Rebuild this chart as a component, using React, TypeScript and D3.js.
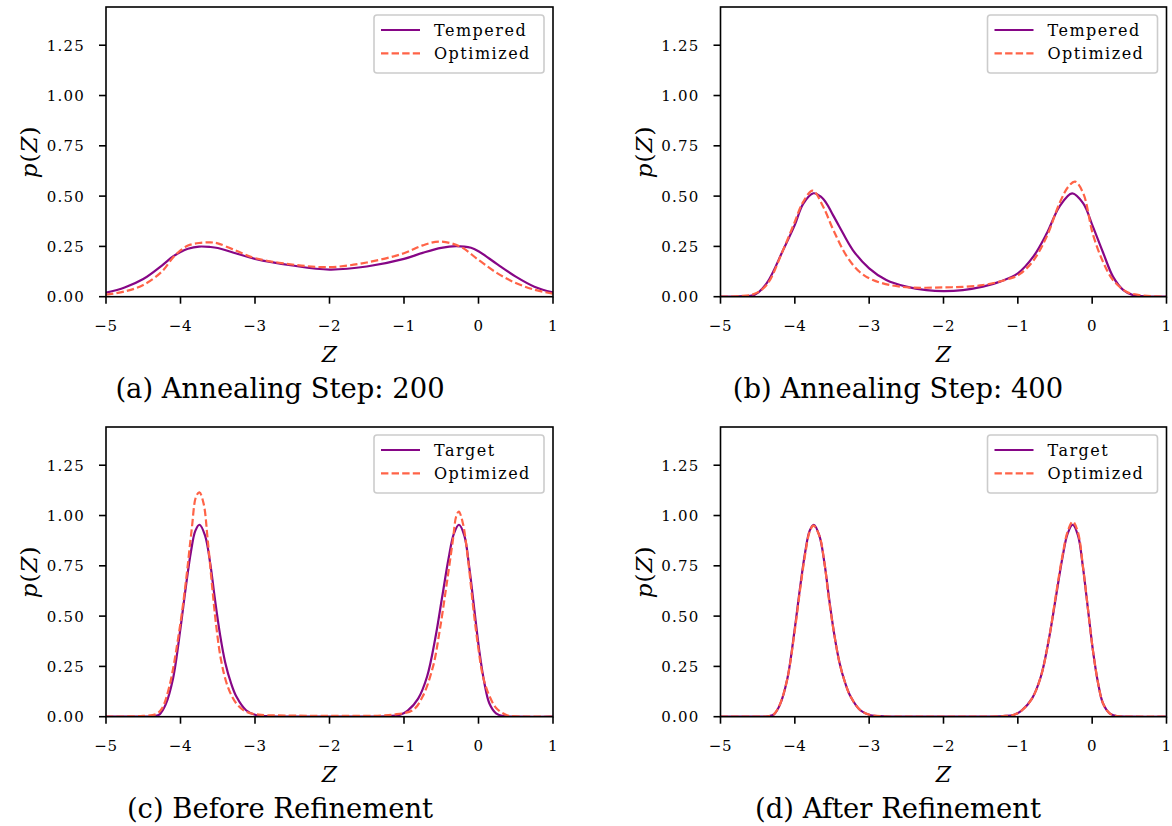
import React, { useEffect } from "react";
import * as d3 from "d3";

// ---------- DATA ----------
const xTicks = [-5, -4, -3, -2, -1, 0, 1];
const yTicks = [0, 0.25, 0.5, 0.75, 1.0, 1.25];
const captions = [
  "(a) Annealing Step: 200",
  "(b) Annealing Step: 400",
  "(c) Before Refinement",
  "(d) After Refinement",
];
const legendLabelsTop = ["Tempered", "Optimized"];
const legendLabelsBottom = ["Target", "Optimized"];

// (a) step 200
const aTemperedX = [-5, -4.75, -4.5, -4.25, -4.1, -4, -3.9, -3.75, -3.6, -3.5, -3.25, -3, -2.5, -2, -1.5, -1, -0.75, -0.5, -0.3, -0.1, 0, 0.25, 0.5, 0.75, 1];
const aTemperedY = [0.020, 0.046, 0.088, 0.155, 0.200, 0.222, 0.238, 0.249, 0.247, 0.242, 0.215, 0.188, 0.155, 0.135, 0.150, 0.188, 0.218, 0.243, 0.251, 0.243, 0.226, 0.162, 0.100, 0.050, 0.021];
const aOptX = [-5, -4.75, -4.5, -4.25, -4.1, -4, -3.9, -3.75, -3.6, -3.5, -3.25, -3, -2.5, -2, -1.5, -1, -0.75, -0.52, -0.25, 0, 0.25, 0.5, 0.75, 1];
const aOptY = [0.010, 0.026, 0.058, 0.125, 0.195, 0.230, 0.254, 0.267, 0.270, 0.265, 0.228, 0.192, 0.160, 0.147, 0.170, 0.216, 0.255, 0.274, 0.250, 0.183, 0.117, 0.068, 0.035, 0.015];

// (b) step 400
const bTemperedX = [-5, -4.75, -4.54, -4.38, -4.16, -4.0, -3.89, -3.75, -3.65, -3.57, -3.5, -3.4, -3.22, -3.0, -2.77, -2.5, -2.23, -2.0, -1.74, -1.47, -1.24, -1.0, -0.79, -0.61, -0.44, -0.27, -0.12, 0.01, 0.15, 0.28, 0.42, 0.55, 0.78, 1.0];
const bTemperedY = [0, 0.002, 0.01, 0.066, 0.23, 0.357, 0.46, 0.514, 0.497, 0.462, 0.415, 0.348, 0.232, 0.141, 0.083, 0.05, 0.033, 0.028, 0.033, 0.05, 0.075, 0.116, 0.2, 0.315, 0.448, 0.514, 0.464, 0.348, 0.216, 0.1, 0.033, 0.008, 0.001, 0];
const bOptX = [-5, -4.75, -4.55, -4.38, -4.16, -4.0, -3.89, -3.76, -3.62, -3.48, -3.3, -3.13, -2.95, -2.59, -2.0, -1.47, -1.1, -0.97, -0.79, -0.61, -0.44, -0.32, -0.23, -0.12, 0.01, 0.15, 0.28, 0.46, 0.64, 1.0];
const bOptY = [0, 0.003, 0.013, 0.058, 0.23, 0.373, 0.47, 0.527, 0.448, 0.33, 0.2, 0.124, 0.083, 0.05, 0.046, 0.058, 0.091, 0.113, 0.18, 0.3, 0.464, 0.547, 0.572, 0.514, 0.31, 0.17, 0.083, 0.025, 0.008, 0];

// target density (c, d)
const targetX = [-5, -4.6, -4.4, -4.34, -4.28, -4.2, -4.1, -4.0, -3.93, -3.86, -3.8, -3.745, -3.67, -3.6, -3.54, -3.47, -3.4, -3.32, -3.25, -3.12, -2.98, -2.8, -2.5, -2.0, -1.5, -1.2, -1.05, -0.95, -0.81, -0.69, -0.58, -0.49, -0.4, -0.33, -0.262, -0.19, -0.125, -0.055, 0.01, 0.08, 0.145, 0.235, 0.33, 0.5, 1.0];
const targetY = [0, 0, 0.0005, 0.003, 0.012, 0.06, 0.19, 0.44, 0.64, 0.82, 0.925, 0.954, 0.9, 0.76, 0.59, 0.41, 0.27, 0.165, 0.1, 0.032, 0.007, 0.002, 0.0005, 0.0003, 0.0005, 0.003, 0.01, 0.03, 0.09, 0.2, 0.39, 0.59, 0.79, 0.91, 0.954, 0.9, 0.746, 0.53, 0.33, 0.166, 0.067, 0.017, 0.003, 0.0005, 0];

// (c) optimized before refinement
const cOptX = [-5, -4.6, -4.5, -4.33, -4.25, -4.15, -4.015, -3.925, -3.85, -3.79, -3.746, -3.69, -3.635, -3.575, -3.52, -3.455, -3.366, -3.253, -3.12, -2.95, -2.6, -2.0, -1.5, -1.3, -1.15, -0.88, -0.75, -0.61, -0.52, -0.432, -0.343, -0.3, -0.265, -0.21, -0.14, -0.072, -0.005, 0.06, 0.15, 0.24, 0.375, 0.5, 1.0];
const cOptY = [0, 0.002, 0.004, 0.012, 0.04, 0.15, 0.43, 0.68, 0.93, 1.095, 1.115, 1.06, 0.88, 0.647, 0.45, 0.28, 0.15, 0.067, 0.025, 0.01, 0.006, 0.004, 0.004, 0.006, 0.01, 0.033, 0.1, 0.25, 0.43, 0.647, 0.88, 0.995, 1.02, 0.962, 0.78, 0.547, 0.348, 0.2, 0.1, 0.042, 0.008, 0.002, 0];

// (d) optimized after refinement
const dOptX = [-5, -4.6, -4.4, -4.34, -4.28, -4.2, -4.1, -4.0, -3.93, -3.86, -3.8, -3.75, -3.67, -3.6, -3.54, -3.47, -3.4, -3.32, -3.25, -3.12, -2.98, -2.8, -2.5, -2.0, -1.5, -1.2, -1.05, -0.95, -0.81, -0.69, -0.58, -0.49, -0.4, -0.33, -0.26, -0.19, -0.125, -0.055, 0.01, 0.08, 0.145, 0.235, 0.33, 0.5, 1.0];
const dOptY = [0, 0, 0.0005, 0.003, 0.013, 0.062, 0.19, 0.43, 0.63, 0.81, 0.92, 0.95, 0.9, 0.76, 0.58, 0.41, 0.27, 0.165, 0.1, 0.033, 0.008, 0.002, 0.0005, 0.0003, 0.0005, 0.003, 0.01, 0.03, 0.09, 0.2, 0.39, 0.6, 0.8, 0.92, 0.97, 0.915, 0.75, 0.53, 0.33, 0.166, 0.067, 0.017, 0.003, 0.0005, 0];

// ---------- STYLE / LAYOUT ----------
const W = 1172;
const H = 826;
const PURPLE = "#860686";
const TOMATO = "#ff6347";
const FONT = "'DejaVu Serif', serif";

const cols = [
  { x0: 106, x1: 553, capX: 280 },
  { x0: 720.5, x1: 1166.5, capX: 898 },
];
const rows = [
  { y0: 7, y1: 296.7 },
  { y0: 427, y1: 716.7 },
];

type Series = { xs: number[]; ys: number[] };

const panels = [
  { col: 0, row: 0, solid: { xs: aTemperedX, ys: aTemperedY }, dashed: { xs: aOptX, ys: aOptY }, labels: legendLabelsTop, caption: captions[0] },
  { col: 1, row: 0, solid: { xs: bTemperedX, ys: bTemperedY }, dashed: { xs: bOptX, ys: bOptY }, labels: legendLabelsTop, caption: captions[1] },
  { col: 0, row: 1, solid: { xs: targetX, ys: targetY }, dashed: { xs: cOptX, ys: cOptY }, labels: legendLabelsBottom, caption: captions[2] },
  { col: 1, row: 1, solid: { xs: targetX, ys: targetY }, dashed: { xs: dOptX, ys: dOptY }, labels: legendLabelsBottom, caption: captions[3] },
];

const fmtY = (v: number) => v.toFixed(2);
const fmtX = (v: number) => (v < 0 ? "\u2212" + Math.abs(v) : String(v));

function Panel({ idx, p }: { idx: number; p: (typeof panels)[number] }) {
  const c = cols[p.col];
  const r = rows[p.row];
  const x = d3.scaleLinear().domain([-5, 1]).range([c.x0, c.x1]);
  const y = d3.scaleLinear().domain([0, 1.44]).range([r.y1, r.y0]);
  const line = d3
    .line<[number, number]>()
    .x((d) => x(d[0]))
    .y((d) => y(d[1]))
    .curve(d3.curveCatmullRom.alpha(0.5));
  const pts = (s: Series) => s.xs.map((v, i) => [v, s.ys[i]] as [number, number]);
  const clipId = `clip${idx}`;
  const cx = (c.x0 + c.x1) / 2;
  const cy = (r.y0 + r.y1) / 2;
  const lgW = 170;
  const lgH = 58;
  const lgX = c.x1 - 9 - lgW;
  const lgY = r.y0 + 8;
  return (
    <g>
      <defs>
        <clipPath id={clipId}>
          <rect x={c.x0} y={r.y0} width={c.x1 - c.x0} height={r.y1 - r.y0} />
        </clipPath>
      </defs>
      <g clipPath={`url(#${clipId})`}>
        <path d={line(pts(p.solid)) || ""} fill="none" stroke={PURPLE} strokeWidth={2.2} />
        <path d={line(pts(p.dashed)) || ""} fill="none" stroke={TOMATO} strokeWidth={2.2} strokeDasharray="7.4,3.2" />
      </g>
      <rect x={c.x0} y={r.y0} width={c.x1 - c.x0} height={r.y1 - r.y0} fill="none" stroke="#000" strokeWidth={1.6} />
      {yTicks.map((t) => (
        <g key={"y" + t}>
          <line x1={c.x0 - 7} x2={c.x0} y1={y(t)} y2={y(t)} stroke="#000" strokeWidth={1.6} />
          <text x={c.x0 - 21} y={y(t) + 5.4} textAnchor="end" fontFamily={FONT} fontSize={15} letterSpacing={1.2} fill="#000">
            {fmtY(t)}
          </text>
        </g>
      ))}
      {xTicks.map((t) => (
        <g key={"x" + t}>
          <line x1={x(t)} x2={x(t)} y1={r.y1} y2={r.y1 + 7} stroke="#000" strokeWidth={1.6} />
          <text x={x(t)} y={r.y1 + 34} textAnchor="middle" fontFamily={FONT} fontSize={15} letterSpacing={0.6} fill="#000">
            {fmtX(t)}
          </text>
        </g>
      ))}
      <text x={cx} y={r.y1 + 65} textAnchor="middle" fontFamily={FONT} fontSize={22} fontStyle="italic" fill="#000">
        Z
      </text>
      <text
        transform={`translate(${c.x0 - 77},${cy}) rotate(-90)`}
        textAnchor="middle"
        dominantBaseline="central"
        fontFamily={FONT}
        fontSize={23}
        letterSpacing={1}
        fill="#000"
      >
        <tspan fontStyle="italic">p</tspan>(<tspan fontStyle="italic">Z</tspan>)
      </text>
      <text x={c.capX} y={r.y1 + 101.5} textAnchor="middle" fontFamily={FONT} fontSize={27.4} fill="#000">
        {p.caption}
      </text>
      <g>
        <rect x={lgX} y={lgY} width={lgW} height={lgH} rx={3} fill="#fff" fillOpacity={0.8} stroke="#cccccc" strokeWidth={1.6} />
        <line x1={lgX + 7} x2={lgX + 46} y1={lgY + 15} y2={lgY + 15} stroke={PURPLE} strokeWidth={2.2} />
        <line x1={lgX + 7} x2={lgX + 46} y1={lgY + 38.3} y2={lgY + 38.3} stroke={TOMATO} strokeWidth={2.2} strokeDasharray="7.4,3.2" />
        <text x={lgX + 60} y={lgY + 21} fontFamily={FONT} fontSize={16} letterSpacing={1.5} fill="#000">
          {p.labels[0]}
        </text>
        <text x={lgX + 60} y={lgY + 44.3} fontFamily={FONT} fontSize={16} letterSpacing={1.5} fill="#000">
          {p.labels[1]}
        </text>
      </g>
    </g>
  );
}

export default function App() {
  useEffect(() => {
    document.body.style.margin = "0";
    document.body.style.overflow = "hidden";
  }, []);
  return (
    <svg width={W} height={H} style={{ position: "absolute", left: 0, top: 0, background: "#fff" }}>
      <rect x={0} y={0} width={W} height={H} fill="#fff" />
      {panels.map((p, i) => (
        <Panel key={i} idx={i} p={p} />
      ))}
    </svg>
  );
}
